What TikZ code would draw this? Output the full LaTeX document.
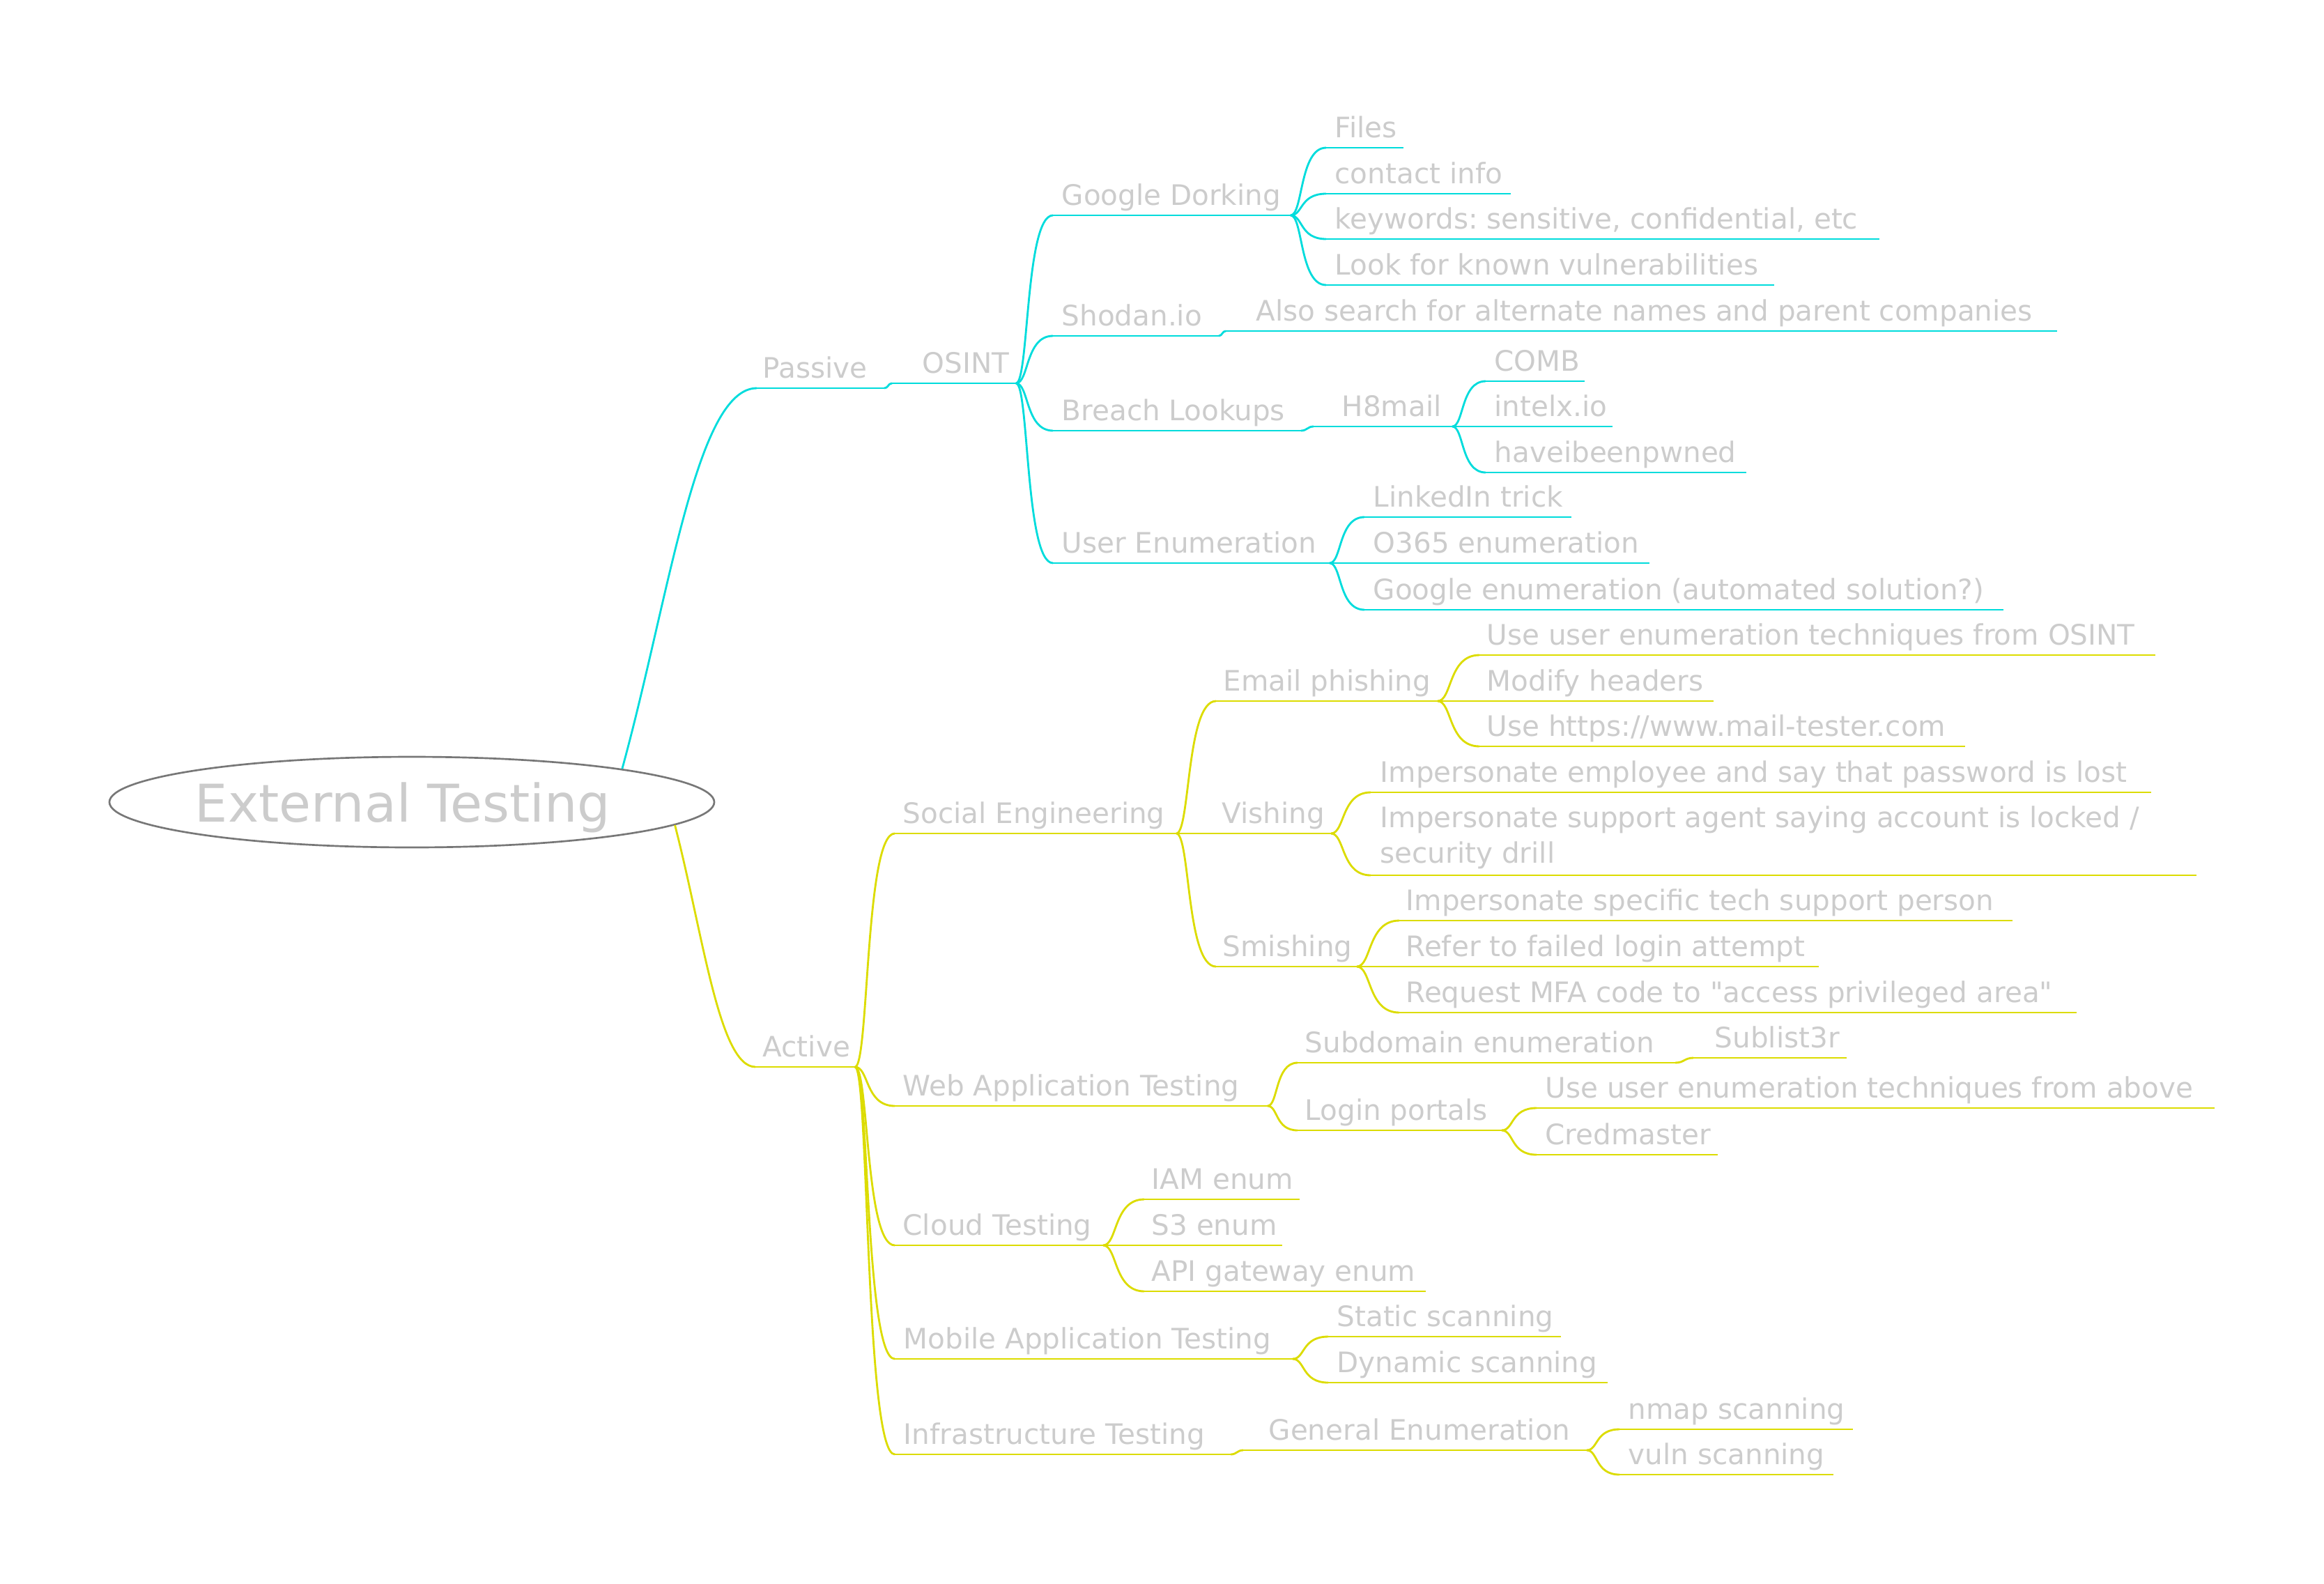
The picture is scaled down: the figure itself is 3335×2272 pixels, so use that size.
\documentclass[tikz,border=0pt]{standalone}
\usepackage{fontspec}
\setmainfont{DejaVu Sans}[Ligatures=TeXOff]
\usetikzlibrary{calc,shapes.geometric}
\frenchspacing
\definecolor{txtgray}{RGB}{204,204,204}
\definecolor{cyanc}{RGB}{0,220,220}
\definecolor{yelc}{RGB}{220,220,0}
\definecolor{rimgray}{RGB}{119,119,119}
\tikzset{
  txt/.style={inner sep=0pt, anchor=base west, text=txtgray, font=\fontsize{12.15pt}{15.3pt}\selectfont},
  cy/.style={draw=cyanc, line width=0.85pt},
  yl/.style={draw=yelc, line width=0.85pt},
  rootnode/.style={ellipse, draw=rimgray, line width=0.8pt, minimum width=260.4pt, minimum height=39pt, inner sep=0pt, text=txtgray, text depth=0pt, font=\fontsize{22.4pt}{27pt}\selectfont},
}
% item: style, name, text x, underline y, underline start x, underline end x, text
\newcommand\mmitem[7]{%
  \node[txt] (#2) at (#3,#4-15) {#7};
  \coordinate (#2-s) at (#5,#4);
  \coordinate (#2-e) at (#6,#4);
  \draw[#1] (#2-s) -- (#2-e);}
\newcommand\mmlink[3]{\draw[#1] let \p1=(#2), \p2=(#3) in (\p1) .. controls ({\x1+0.35*(\x2-\x1)},{\y1}) and ({\x1+0.25*(\x2-\x1)},{\y2}) .. (\p2);}
\newcommand\mmhop[3]{\draw[#1] let \p1=(#2), \p2=(#3) in (\p1) .. controls ({\x1+0.5*(\x2-\x1)},{\y1}) and ({\x1+0.5*(\x2-\x1)},{\y2}) .. (\p2);}
\newcommand\mmtrunk[3]{\draw[#1] let \p1=(#2), \p2=(#3) in (\p1) .. controls ({\x1+0.35*(\x2-\x1)},{\y1+0.45*(\y2-\y1)}) and ({\x2-0.45*(\x2-\x1)},{\y2}) .. (\p2);}
\begin{document}
\begin{tikzpicture}[x=0.3pt,y=-0.3pt]
\useasboundingbox (0,0) rectangle (3335,2272);
\node[rootnode] (root) at (591,1151) {\kern-7.8pt External Testing};

% ---------------- Passive branch ----------------
\mmitem{cy}{passive}{1094}{557}{1086}{1269}{Passive}
\mmitem{cy}{osint}{1323}{550}{1280}{1458}{OSINT}
\mmitem{cy}{gd}{1523}{309}{1511}{1852}{Google Dorking}
\mmitem{cy}{shodan}{1523}{482}{1511}{1749}{Shodan.io}
\mmitem{cy}{breach}{1523}{618}{1511}{1867}{Breach Lookups}
\mmitem{cy}{ue}{1523}{808}{1511}{1908}{User Enumeration}
\mmitem{cy}{files}{1915}{212}{1903}{2014}{Files}
\mmitem{cy}{contact}{1915}{278}{1903}{2168}{contact info}
\mmitem{cy}{keywords}{1915}{343}{1903}{2697}{keywords: sensitive, confidential, etc}
\mmitem{cy}{look}{1915}{409}{1903}{2546}{Look for known vulnerabilities}
\mmitem{cy}{also}{1802}{475}{1759}{2952}{Also search for alternate names and parent companies}
\mmitem{cy}{h8}{1925}{612}{1885}{2084}{H8mail}
\mmitem{cy}{comb}{2144}{547}{2132}{2274}{COMB}
\mmitem{cy}{intelx}{2144}{612}{2132}{2314}{intelx.io}
\mmitem{cy}{hibp}{2144}{678}{2132}{2506}{haveibeenpwned}
\mmitem{cy}{linkedin}{1970}{742}{1958}{2255}{LinkedIn trick}
\mmitem{cy}{o365}{1970}{808}{1958}{2367}{O365 enumeration}
\mmitem{cy}{goog}{1970}{875}{1958}{2875}{Google enumeration (automated solution?)}

\mmtrunk{cy}{root.9}{passive-s}
\mmhop{cy}{passive-e}{osint-s}
\mmlink{cy}{osint-e}{gd-s}
\mmlink{cy}{osint-e}{shodan-s}
\mmlink{cy}{osint-e}{breach-s}
\mmlink{cy}{osint-e}{ue-s}
\mmlink{cy}{gd-e}{files-s}
\mmlink{cy}{gd-e}{contact-s}
\mmlink{cy}{gd-e}{keywords-s}
\mmlink{cy}{gd-e}{look-s}
\mmhop{cy}{shodan-e}{also-s}
\mmhop{cy}{breach-e}{h8-s}
\mmlink{cy}{h8-e}{comb-s}
\mmlink{cy}{h8-e}{intelx-s}
\mmlink{cy}{h8-e}{hibp-s}
\mmlink{cy}{ue-e}{linkedin-s}
\mmlink{cy}{ue-e}{o365-s}
\mmlink{cy}{ue-e}{goog-s}

% ---------------- Active branch ----------------
\mmitem{yl}{active}{1094}{1531}{1084}{1227}{Active}
\mmitem{yl}{se}{1295}{1196}{1284}{1688}{Social Engineering}
\mmitem{yl}{webapp}{1295}{1587}{1284}{1819}{Web Application Testing}
\mmitem{yl}{cloud}{1295}{1787}{1284}{1583}{Cloud Testing}
\mmitem{yl}{mobile}{1296}{1950}{1284}{1855}{Mobile Application Testing}
\mmitem{yl}{infra}{1296}{2087}{1284}{1766}{Infrastructure Testing}
\mmitem{yl}{email}{1755}{1006}{1745}{2063}{Email phishing}
\mmitem{yl}{vishing}{1753}{1196}{1745}{1910}{Vishing}
\mmitem{yl}{smishing}{1754}{1387}{1745}{1947}{Smishing}
\mmitem{yl}{uosint}{2133}{940}{2123}{3093}{Use user enumeration techniques from OSINT}
\mmitem{yl}{modify}{2133}{1006}{2123}{2459}{Modify headers}
\mmitem{yl}{mailt}{2133}{1071}{2123}{2820}{Use https://www.mail-tester.com}
\mmitem{yl}{impa}{1980}{1137}{1967}{3087}{Impersonate employee and say that password is lost}
\node[txt, align=left] (impb) at (1980,1238) {Impersonate support agent saying account is locked /\\security drill};
\coordinate (impb-s) at (1967,1256);
\coordinate (impb-e) at (3152,1256);
\draw[yl] (impb-s) -- (impb-e);
\mmitem{yl}{impc}{2017}{1321}{2008}{2888}{Impersonate specific tech support person}
\mmitem{yl}{refer}{2017}{1387}{2008}{2610}{Refer to failed login attempt}
\mmitem{yl}{mfa}{2017}{1453}{2008}{2980}{Request MFA code to "access privileged area"}
\mmitem{yl}{subdom}{1872}{1525}{1862}{2404}{Subdomain enumeration}
\mmitem{yl}{sublist}{2460}{1518}{2430}{2650}{Sublist3r}
\mmitem{yl}{login}{1872}{1622}{1862}{2155}{Login portals}
\mmitem{yl}{uabove}{2217}{1590}{2205}{3178}{Use user enumeration techniques from above}
\mmitem{yl}{cred}{2217}{1657}{2205}{2465}{Credmaster}
\mmitem{yl}{iam}{1652}{1721}{1642}{1865}{IAM enum}
\mmitem{yl}{sthree}{1652}{1787}{1642}{1840}{S3 enum}
\mmitem{yl}{api}{1652}{1853}{1642}{2046}{API gateway enum}
\mmitem{yl}{static}{1918}{1918}{1906}{2240}{Static scanning}
\mmitem{yl}{dynamic}{1918}{1984}{1906}{2307}{Dynamic scanning}
\mmitem{yl}{genenum}{1820}{2081}{1784}{2277}{General Enumeration}
\mmitem{yl}{nmap}{2336}{2051}{2324}{2659}{nmap scanning}
\mmitem{yl}{vuln}{2336}{2116}{2324}{2631}{vuln scanning}

\mmtrunk{yl}{root.-5.4}{active-s}
\mmlink{yl}{active-e}{se-s}
\mmlink{yl}{active-e}{webapp-s}
\mmlink{yl}{active-e}{cloud-s}
\mmlink{yl}{active-e}{mobile-s}
\mmlink{yl}{active-e}{infra-s}
\mmlink{yl}{se-e}{email-s}
\mmlink{yl}{se-e}{vishing-s}
\mmlink{yl}{se-e}{smishing-s}
\mmlink{yl}{email-e}{uosint-s}
\mmlink{yl}{email-e}{modify-s}
\mmlink{yl}{email-e}{mailt-s}
\mmlink{yl}{vishing-e}{impa-s}
\mmlink{yl}{vishing-e}{impb-s}
\mmlink{yl}{smishing-e}{impc-s}
\mmlink{yl}{smishing-e}{refer-s}
\mmlink{yl}{smishing-e}{mfa-s}
\mmlink{yl}{webapp-e}{subdom-s}
\mmlink{yl}{webapp-e}{login-s}
\mmhop{yl}{subdom-e}{sublist-s}
\mmlink{yl}{login-e}{uabove-s}
\mmlink{yl}{login-e}{cred-s}
\mmlink{yl}{cloud-e}{iam-s}
\mmlink{yl}{cloud-e}{sthree-s}
\mmlink{yl}{cloud-e}{api-s}
\mmlink{yl}{mobile-e}{static-s}
\mmlink{yl}{mobile-e}{dynamic-s}
\mmhop{yl}{infra-e}{genenum-s}
\mmlink{yl}{genenum-e}{nmap-s}
\mmlink{yl}{genenum-e}{vuln-s}
\end{tikzpicture}
\end{document}
